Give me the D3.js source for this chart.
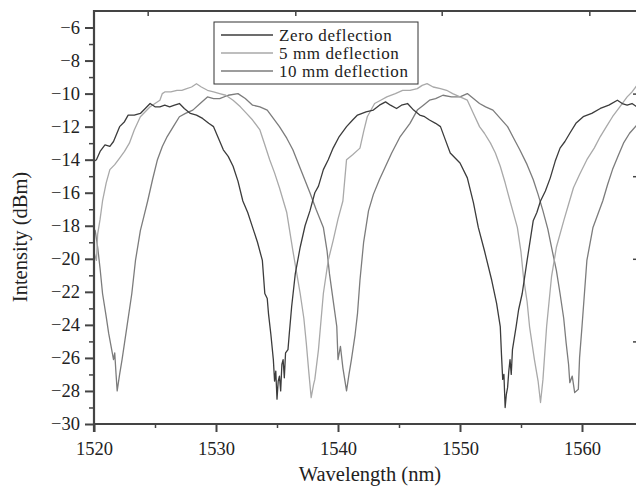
<!DOCTYPE html>
<html>
<head>
<meta charset="utf-8">
<script src="https://cdn.jsdelivr.net/npm/d3@7"></script>
<style>
    body { margin: 0; background: #fff; }
    text { font-family: "Liberation Serif", "Times New Roman", serif; fill: #222; }
    .axis path, .axis line { stroke: #444; }
</style>
</head>
<body>
<script>
// Spectra: [wavelength nm, intensity dBm]
var zeroDeflection = [
    [1520.0, -14.1], [1520.2, -14.0], [1520.5, -13.5], [1520.9, -13.1], [1521.3, -13.2], [1521.6, -12.9],
    [1522.1, -12.0], [1522.5, -11.7], [1522.8, -11.3], [1523.3, -11.3], [1523.8, -11.2], [1524.2, -10.9],
    [1524.6, -10.6], [1525.0, -10.8], [1525.4, -10.8], [1525.8, -10.7], [1526.2, -10.8], [1526.6, -10.7],
    [1527.0, -10.6], [1527.4, -10.9], [1527.9, -11.2], [1528.4, -11.3], [1528.9, -11.5], [1529.4, -11.8],
    [1529.8, -12.0], [1530.2, -12.7], [1530.6, -13.4], [1531.0, -13.8], [1531.4, -14.4], [1531.8, -15.3],
    [1532.2, -16.5], [1532.6, -17.2], [1533.0, -18.1], [1533.4, -19.0], [1533.8, -20.1], [1534.0, -22.1],
    [1534.2, -22.4], [1534.3, -23.3], [1534.5, -24.6], [1534.7, -26.1], [1534.8, -27.4], [1534.9, -26.8],
    [1535.0, -28.5], [1535.1, -27.4], [1535.2, -27.1], [1535.3, -28.0], [1535.4, -26.4], [1535.5, -26.1],
    [1535.6, -27.2], [1535.7, -25.7], [1535.9, -25.5], [1536.0, -24.6], [1536.2, -22.9], [1536.5, -20.9],
    [1536.9, -19.3], [1537.3, -18.0], [1537.7, -17.1], [1538.1, -16.0], [1538.4, -15.6], [1538.8, -14.6],
    [1539.2, -14.0], [1539.6, -13.3], [1540.1, -12.6], [1540.7, -12.0], [1541.2, -11.6], [1541.6, -11.3],
    [1542.3, -11.1], [1542.9, -11.0], [1543.4, -10.7], [1543.9, -10.5], [1544.3, -10.7], [1544.8, -10.9],
    [1545.2, -10.7], [1545.7, -10.6], [1546.2, -11.0], [1546.7, -11.3], [1547.1, -11.4], [1547.5, -11.6],
    [1548.0, -11.8], [1548.4, -12.0], [1548.8, -12.8], [1549.2, -13.6], [1549.6, -13.9], [1550.0, -14.2],
    [1550.6, -15.1], [1551.1, -16.6], [1551.5, -18.1], [1552.0, -19.5], [1552.6, -21.3], [1553.0, -22.7],
    [1553.3, -24.1], [1553.4, -25.8], [1553.5, -27.3], [1553.6, -27.0], [1553.7, -29.0], [1553.8, -28.2],
    [1553.9, -27.8], [1554.0, -26.8], [1554.1, -26.1], [1554.2, -27.0], [1554.3, -25.5], [1554.6, -24.1],
    [1554.8, -23.1], [1555.1, -22.1], [1555.5, -20.1], [1556.0, -17.7], [1556.3, -17.2], [1556.6, -16.5],
    [1557.0, -15.9], [1557.4, -15.1], [1557.8, -14.1], [1558.2, -13.3], [1558.6, -12.9], [1559.0, -12.4],
    [1559.5, -11.8], [1560.1, -11.4], [1560.8, -11.2], [1561.5, -10.9], [1562.2, -10.7], [1562.9, -10.4],
    [1563.3, -10.6], [1563.7, -10.7], [1564.1, -10.6], [1564.5, -10.8]
];

var fiveMmDeflection = [
    [1520.0, -19.6], [1520.2, -20.1], [1520.3, -18.5], [1520.5, -17.6], [1520.7, -16.5], [1521.0, -15.4],
    [1521.3, -14.6], [1521.7, -14.3], [1522.1, -13.9], [1522.5, -13.5], [1522.9, -13.0], [1523.3, -12.2],
    [1523.8, -11.4], [1524.2, -11.1], [1524.6, -10.8], [1525.0, -10.6], [1525.4, -10.4], [1525.6, -10.0],
    [1525.8, -9.9], [1526.3, -9.9], [1526.8, -9.8], [1527.2, -9.8], [1527.6, -9.7], [1528.0, -9.6],
    [1528.4, -9.4], [1528.8, -9.6], [1529.3, -9.8], [1529.8, -9.9], [1530.3, -10.0], [1530.8, -10.1],
    [1531.4, -10.4], [1532.0, -10.8], [1532.5, -11.2], [1533.0, -11.6], [1533.6, -12.2], [1534.0, -13.1],
    [1534.4, -14.0], [1534.8, -14.8], [1535.2, -15.7], [1535.8, -17.2], [1536.3, -19.5], [1536.6, -20.8],
    [1536.9, -22.1], [1537.2, -23.6], [1537.4, -25.1], [1537.6, -26.8], [1537.8, -28.4], [1538.0, -27.6],
    [1538.1, -27.3], [1538.4, -25.5], [1538.8, -22.1], [1539.2, -20.1], [1539.6, -18.9], [1540.0, -17.6],
    [1540.4, -16.5], [1540.7, -14.0], [1541.2, -13.7], [1541.8, -13.3], [1542.1, -12.3], [1542.4, -11.4],
    [1543.0, -10.6], [1543.5, -10.4], [1544.0, -10.2], [1544.7, -10.0], [1545.3, -9.8], [1545.9, -9.8],
    [1546.5, -9.7], [1546.9, -9.5], [1547.3, -9.4], [1547.8, -9.6], [1548.4, -9.7], [1548.9, -9.8],
    [1549.4, -10.0], [1550.0, -10.2], [1550.6, -10.4], [1551.1, -11.2], [1551.6, -12.0], [1552.0, -12.4],
    [1552.5, -13.0], [1552.9, -13.6], [1553.3, -14.4], [1553.7, -15.4], [1554.1, -16.5], [1554.4, -17.3],
    [1554.7, -18.1], [1555.0, -19.6], [1555.2, -21.1], [1555.5, -22.6], [1555.7, -24.1], [1556.1, -26.1],
    [1556.4, -27.4], [1556.6, -28.7], [1556.8, -27.3], [1557.1, -24.1], [1557.5, -21.1], [1557.9, -19.3],
    [1558.5, -17.7], [1558.9, -16.7], [1559.3, -15.7], [1559.8, -14.9], [1560.4, -14.0], [1561.0, -13.3],
    [1561.5, -12.6], [1562.0, -12.0], [1562.5, -11.4], [1563.1, -10.8], [1563.7, -10.2], [1564.1, -9.9],
    [1564.5, -9.5]
];

var tenMmDeflection = [
    [1520.0, -18.2], [1520.1, -18.3], [1520.3, -19.3], [1520.5, -20.6], [1520.7, -22.1], [1521.0, -23.5],
    [1521.2, -24.5], [1521.4, -25.3], [1521.6, -26.1], [1521.7, -25.7], [1521.8, -26.9], [1521.9, -28.0],
    [1522.1, -27.0], [1522.3, -26.1], [1522.5, -25.1], [1522.7, -24.1], [1523.1, -22.1], [1523.4, -20.1],
    [1523.8, -18.3], [1524.1, -17.4], [1524.4, -16.5], [1524.8, -15.2], [1525.2, -14.0], [1525.6, -13.2],
    [1526.0, -12.6], [1526.5, -12.0], [1527.0, -11.4], [1527.5, -11.2], [1528.1, -11.0], [1528.7, -10.6],
    [1529.3, -10.2], [1529.8, -10.3], [1530.3, -10.3], [1531.0, -10.1], [1531.8, -10.0], [1532.4, -10.3],
    [1533.0, -10.7], [1533.6, -10.8], [1534.2, -11.0], [1534.7, -11.5], [1535.2, -12.0], [1535.8, -12.7],
    [1536.3, -13.4], [1537.0, -14.7], [1537.7, -16.0], [1538.2, -17.0], [1538.8, -18.1], [1539.1, -19.5],
    [1539.3, -20.9], [1539.6, -22.5], [1539.9, -24.1], [1540.0, -26.1], [1540.2, -25.3], [1540.4, -26.6],
    [1540.7, -28.0], [1540.9, -27.0], [1541.1, -26.1], [1541.4, -24.6], [1541.6, -23.3], [1541.8, -21.3],
    [1542.1, -19.0], [1542.5, -17.1], [1542.9, -16.1], [1543.4, -15.2], [1543.9, -14.4], [1544.4, -13.6],
    [1545.1, -12.6], [1545.9, -11.8], [1546.5, -11.0], [1547.0, -10.7], [1547.5, -10.4], [1548.0, -10.3],
    [1548.6, -10.1], [1549.3, -10.2], [1550.0, -10.2], [1550.6, -10.0], [1551.1, -10.3], [1551.6, -10.6],
    [1552.1, -10.8], [1552.7, -11.0], [1553.3, -11.5], [1553.9, -12.0], [1554.4, -12.7], [1554.9, -13.4],
    [1555.5, -14.3], [1556.0, -15.2], [1556.4, -16.1], [1556.8, -17.1], [1557.2, -18.2], [1557.5, -19.3],
    [1557.9, -20.7], [1558.2, -22.1], [1558.5, -23.6], [1558.7, -25.1], [1558.9, -26.4], [1559.0, -27.5],
    [1559.2, -27.1], [1559.4, -28.1], [1559.7, -27.9], [1559.8, -26.0], [1560.0, -24.1], [1560.2, -22.1],
    [1560.4, -20.1], [1560.9, -18.1], [1561.3, -17.3], [1561.7, -16.5], [1562.1, -15.5], [1562.5, -14.6],
    [1563.0, -13.7], [1563.4, -13.0], [1563.9, -12.4], [1564.5, -11.9]
];

var seriesNames = ["Zero deflection", "5 mm deflection", "10 mm deflection"];
var seriesColors = ["#3c3c3c", "#a9a9a9", "#7c7c7c"];

// Axis ticks
var xMajorTicks = [1520, 1530, 1540, 1550, 1560];
var xMinorTicks = [1525, 1535, 1545, 1555];
var xTopTicks = [1524.4, 1536.5, 1548.5, 1560.6];
var yMajorTicks = [-30, -28, -26, -24, -22, -20, -18, -16, -14, -12, -10, -8, -6];
var yMinorTicks = [-29, -27, -25, -23, -21, -19, -17, -15, -13, -11, -9, -7];
var yRightTicks = [-25, -20, -15, -10];

window.onload = drawChart();

function drawChart() {

    var width = 636,
        height = 489;

    var left = 94, right = 641, top = 11, bottom = 424;

    var svg = d3.select("body")
        .append("svg")
        .attr("width", width)
        .attr("height", height);

    // 1520 and 1560 nm land on the ticks, the picture is cut off past 1564
    var x = d3.scaleLinear()
        .domain([1520, 1560])
        .range([left, 582]);

    var y = d3.scaleLinear()
        .domain([-30, -5])
        .range([bottom, top]);

    svg.append("clipPath")
        .attr("id", "plotClip")
        .append("rect")
        .attr("x", left)
        .attr("y", top)
        .attr("width", right - left)
        .attr("height", bottom - top);

    // Curves
    var line = d3.line()
        .x(function(d){ return x(d[0]); })
        .y(function(d){ return y(d[1]); });

    var allSeries = [zeroDeflection, fiveMmDeflection, tenMmDeflection];
    var drawOrder = [2, 1, 0];

    svg.append("g")
        .attr("clip-path", "url(#plotClip)")
        .selectAll(".spectrum")
        .data(drawOrder)
        .enter()
        .append("path")
        .attr("class", "spectrum")
        .attr("d", function(i){ return line(allSeries[i]); })
        .attr("fill", "none")
        .attr("stroke", function(i){ return seriesColors[i]; })
        .attr("stroke-width", 1.3)
        .attr("stroke-linejoin", "round");

    // Bottom axis
    var xAxis = svg.append("g")
        .attr("class", "axis")
        .attr("transform", "translate(0," + bottom + ")")
        .call(d3.axisBottom(x)
            .tickValues(xMajorTicks)
            .tickFormat(d3.format("d"))
            .tickSize(8)
            .tickPadding(10)
            .tickSizeOuter(0));
    xAxis.select(".domain").remove();
    xAxis.selectAll("line").attr("stroke-width", 2);
    xAxis.selectAll("text")
        .style("font-size", "18.5px");

    svg.append("g")
        .attr("class", "axis")
        .attr("transform", "translate(0," + bottom + ")")
        .call(d3.axisBottom(x).tickValues(xMinorTicks).tickSize(4).tickFormat(""))
        .call(function(g){ g.select(".domain").remove(); })
        .selectAll("line").attr("stroke-width", 1.5);

    svg.append("line")
        .attr("x1", left - 1).attr("x2", width)
        .attr("y1", bottom).attr("y2", bottom)
        .attr("stroke", "#444").attr("stroke-width", 2.2);

    // Top axis (ticks point inward)
    svg.append("g")
        .attr("class", "axis")
        .attr("transform", "translate(0," + top + ")")
        .call(d3.axisTop(x).tickValues(xTopTicks).tickSize(-5).tickFormat(""))
        .call(function(g){ g.select(".domain").remove(); })
        .selectAll("line").attr("stroke-width", 1.5);

    svg.append("line")
        .attr("x1", left - 1).attr("x2", width)
        .attr("y1", top).attr("y2", top)
        .attr("stroke", "#444").attr("stroke-width", 2);

    // Left axis
    var yAxis = svg.append("g")
        .attr("class", "axis")
        .attr("transform", "translate(" + left + ",0)")
        .call(d3.axisLeft(y)
            .tickValues(yMajorTicks)
            .tickFormat(function(d){ return "\u2212" + Math.abs(d); })
            .tickSize(9)
            .tickPadding(5)
            .tickSizeOuter(0));
    yAxis.select(".domain").remove();
    yAxis.selectAll("line").attr("stroke-width", 2);
    yAxis.selectAll("text")
        .style("font-size", "18.5px");

    svg.append("g")
        .attr("class", "axis")
        .attr("transform", "translate(" + left + ",0)")
        .call(d3.axisLeft(y).tickValues(yMinorTicks).tickSize(5).tickFormat(""))
        .call(function(g){ g.select(".domain").remove(); })
        .selectAll("line").attr("stroke-width", 1.5);

    svg.append("line")
        .attr("x1", left).attr("x2", left)
        .attr("y1", top - 1).attr("y2", bottom + 8)
        .attr("stroke", "#444").attr("stroke-width", 2.2);

    // Right axis sits just outside the picture, only its tick tips show
    svg.append("g")
        .attr("class", "axis")
        .attr("transform", "translate(" + right + ",0)")
        .call(d3.axisRight(y).tickValues(yRightTicks).tickSize(-8).tickFormat(""))
        .call(function(g){ g.select(".domain").remove(); })
        .selectAll("line").attr("stroke-width", 1.5);

    // Axis titles
    svg.append("text")
        .attr("x", 370)
        .attr("y", 481)
        .attr("text-anchor", "middle")
        .style("font-size", "20.5px")
        .text("Wavelength (nm)");

    svg.append("text")
        .attr("transform", "translate(27,237) rotate(-90)")
        .attr("text-anchor", "middle")
        .style("font-size", "20.5px")
        .text("Intensity (dBm)");

    // Legend
    var legend = svg.append("g")
        .attr("transform", "translate(214,22)");

    legend.append("rect")
        .attr("width", 204)
        .attr("height", 62)
        .attr("fill", "#fff")
        .attr("stroke", "#333")
        .attr("stroke-width", 1);

    var rows = legend.selectAll(".legendRow")
        .data(seriesNames)
        .enter()
        .append("g")
        .attr("class", "legendRow")
        .attr("transform", function(d, i){ return "translate(0," + (13 + i * 18) + ")"; });

    rows.append("line")
        .attr("x1", 7).attr("x2", 59)
        .attr("stroke", function(d, i){ return seriesColors[i]; })
        .attr("stroke-width", 1.6);

    rows.append("text")
        .attr("x", 65)
        .attr("dy", "0.33em")
        .style("font-size", "17px")
        .style("letter-spacing", "0.6px")
        .text(function(d){ return d; });
}
</script>
</body>
</html>
